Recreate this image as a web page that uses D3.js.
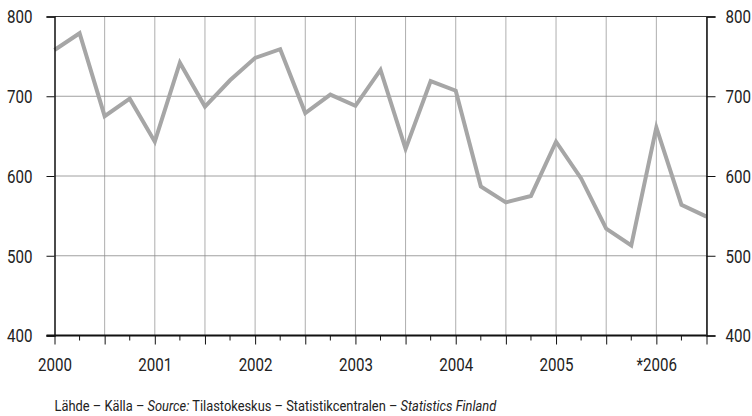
<!DOCTYPE html>
<html>
<head>
<meta charset="utf-8">
<script src="https://cdn.jsdelivr.net/npm/d3@7"></script>
<style>
  html, body { margin: 0; padding: 0; background: #fff; }
  svg { display: block; }
  text { font-family: Roboto, "Liberation Sans", sans-serif; fill: #222; }
</style>
</head>
<body>
<svg id="chart" width="752" height="416"></svg>
<script>
// quarterly time positions (fractional years)
const periods = [2000, 2000.25, 2000.5, 2000.75, 2001, 2001.25, 2001.5, 2001.75,
  2002, 2002.25, 2002.5, 2002.75, 2003, 2003.25, 2003.5, 2003.75,
  2004, 2004.25, 2004.5, 2004.75, 2005, 2005.25, 2005.5, 2005.75,
  2006, 2006.25, 2006.5];
const values = [758, 779, 675, 697, 643, 742, 687, 720,
  748, 759, 679, 702, 688, 733, 634, 719,
  707, 587, 567, 575, 643, 597, 534, 513,
  661, 564, 549];
const yearTicks = [2000, 2001, 2002, 2003, 2004, 2005, 2006];
const yearLabels = ["2000", "2001", "2002", "2003", "2004", "2005", "*2006"];
const yTicks = [400, 500, 600, 700, 800];
const sourceParts = [
  {t: "Lähde – Källa – ", i: false},
  {t: "Source:", i: true},
  {t: " Tilastokeskus – Statistikcentralen – ", i: false},
  {t: "Statistics Finland", i: true}
];

const svg = d3.select("#chart");
const L = 54.5, R = 706.5, T = 16.5, B = 335.5;
const x = d3.scaleLinear().domain([2000, 2006.5]).range([L, R]);
const y = d3.scaleLinear().domain([400, 800]).range([B, T]);
const SX = 0.84;

function condense(sel) {
  sel.each(function() {
    const t = d3.select(this);
    const x0 = +t.attr("x") || 0;
    t.attr("x", 0).attr("transform", `translate(${x0},0) scale(${SX},1)`);
  });
}

const halfYears = d3.range(0, 14).map(i => 2000 + i * 0.5);
const quarters = d3.range(0, 27).map(i => 2000 + i * 0.25).filter(q => (q * 2) % 1 !== 0);

// vertical gridlines
svg.append("g").selectAll("line").data(halfYears.slice(1)).join("line")
  .attr("x1", d => x(d)).attr("x2", d => x(d))
  .attr("y1", T).attr("y2", B)
  .attr("stroke", "#999").attr("stroke-width", 0.8);
// horizontal gridlines
svg.append("g").selectAll("line").data(yTicks.slice(1)).join("line")
  .attr("x1", L).attr("x2", R)
  .attr("y1", d => y(d)).attr("y2", d => y(d))
  .attr("stroke", d => d === 800 ? "#333" : "#888")
  .attr("stroke-width", d => d === 800 ? 1.2 : 0.8);

// line
const line = d3.line().x((d, i) => x(periods[i])).y(d => y(d));
svg.append("path").datum(values)
  .attr("d", line)
  .attr("fill", "none")
  .attr("stroke", "#a6a6a6")
  .attr("stroke-width", 4)
  .attr("stroke-linejoin", "miter");

// left axis
const yAxisL = d3.axisLeft(y).tickValues(yTicks).tickSize(8).tickPadding(14).tickFormat(d3.format("d"));
const gL = svg.append("g").attr("transform", `translate(${L},0)`).call(yAxisL);
gL.select(".domain").attr("stroke", "#111").attr("stroke-width", 1.5);
gL.selectAll(".tick line").attr("stroke", "#111").attr("stroke-width", 1);
gL.selectAll(".tick text").style("font-size", "18px").attr("dy", "0.36em").call(condense);

// right axis
const yAxisR = d3.axisRight(y).tickValues(yTicks).tickSize(9).tickPadding(10).tickFormat(d3.format("d"));
const gR = svg.append("g").attr("transform", `translate(${R},0)`).call(yAxisR);
gR.select(".domain").attr("stroke", "#111").attr("stroke-width", 1.5);
gR.selectAll(".tick line").attr("stroke", "#111").attr("stroke-width", 1);
gR.selectAll(".tick text").style("font-size", "18px").attr("dy", "0.36em").call(condense);

// bottom axis: half-year major ticks
const xAxis = d3.axisBottom(x).tickValues(halfYears).tickSize(9).tickPadding(14)
  .tickFormat(d => { const k = yearTicks.indexOf(d); return k >= 0 ? yearLabels[k] : ""; });
const gB = svg.append("g").attr("transform", `translate(0,${B})`).call(xAxis);
gB.select(".domain").remove();
gB.selectAll(".tick line").attr("stroke", "#111").attr("stroke-width", 1);
gB.selectAll(".tick text").style("font-size", "18px").call(condense);
// minor quarter ticks
svg.append("g").selectAll("line").data(quarters).join("line")
  .attr("x1", d => x(d)).attr("x2", d => x(d))
  .attr("y1", B).attr("y2", B + 5)
  .attr("stroke", "#111").attr("stroke-width", 1);
// bottom axis line
svg.append("line").attr("x1", L - 8).attr("x2", R).attr("y1", B).attr("y2", B)
  .attr("stroke", "#111").attr("stroke-width", 1.8);

// source
const src = svg.append("text").attr("x", 0).attr("y", 411).style("font-size", "15px");
src.selectAll("tspan").data(sourceParts).join("tspan")
  .text(d => d.t).style("font-style", d => d.i ? "italic" : "normal");
const w = src.node().getComputedTextLength();
src.attr("transform", `translate(${L},0) scale(${442 / w},1)`);
</script>
</body>
</html>
